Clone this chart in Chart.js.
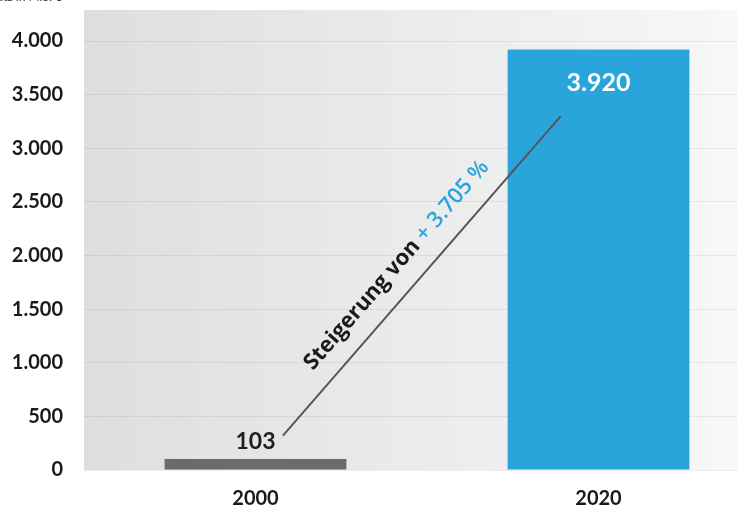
<!DOCTYPE html>
<html>
<head>
<meta charset="utf-8">
<script src="https://cdn.jsdelivr.net/npm/chart.js@4/dist/chart.umd.min.js"></script>
<style>
  html, body { margin: 0; padding: 0; background: #fff; overflow: hidden; }
  #wrap { width: 737px; height: 507px; overflow: hidden; }
</style>
</head>
<body>
<div id="wrap"><canvas id="umsatz-chart" width="772" height="507"></canvas></div>
<script>
// values
const years = ["2000", "2020"];
const revenue = [103, 3920];
const revenueLabels = ["103", "3.920"];
const barColors = ["#6b6b6b", "#2aa5dc"];
const yTicks = [0, 500, 1000, 1500, 2000, 2500, 3000, 3500, 4000];
const yTickLabels = ["0", "500", "1.000", "1.500", "2.000", "2.500", "3.000", "3.500", "4.000"];
const unitTitle = "Umsatz in Mio. €";
// trend arrow: [category position, value]
const trendFrom = [0.08, 320];
const trendTo = [0.89, 3300];
const trendTextBlack = "Steigerung von ";
const trendTextBlue = "+ 3.705 %";

const FONT = "Lato, 'Noto Sans', sans-serif";
const WIDE = "'Open Sans', 'Noto Sans', sans-serif";

const backgroundPlugin = {
  id: "bgGradient",
  beforeDraw(chart) {
    const {ctx, chartArea} = chart;
    const top = chartArea.top - 31;
    const g = ctx.createLinearGradient(chartArea.left, 0, chartArea.right, 0);
    g.addColorStop(0, "#dedede");
    g.addColorStop(1, "#f9f9f9");
    ctx.save();
    ctx.fillStyle = g;
    ctx.fillRect(chartArea.left, top, chartArea.right - chartArea.left, chartArea.bottom - top);
    ctx.restore();
  }
};

const labelsPlugin = {
  id: "valueLabels",
  afterDatasetsDraw(chart) {
    const {ctx} = chart;
    const meta = chart.getDatasetMeta(0);
    ctx.save();
    ctx.textAlign = "center";
    ctx.textBaseline = "middle";
    // 2000: above the bar
    let bar = meta.data[0];
    ctx.font = "bold 23px " + FONT;
    ctx.fillStyle = "#1e1e1e";
    ctx.fillText(revenueLabels[0], bar.x, bar.y - 17);
    // 2020: inside the bar
    bar = meta.data[1];
    ctx.font = "bold 25px " + FONT;
    ctx.fillStyle = "#ffffff";
    ctx.fillText(revenueLabels[1], bar.x, bar.y + 33);

    // trend line
    const xs = chart.scales.x, ys = chart.scales.y;
    const x1 = xs.getPixelForValue(trendFrom[0]), y1 = ys.getPixelForValue(trendFrom[1]);
    const x2 = xs.getPixelForValue(trendTo[0]), y2 = ys.getPixelForValue(trendTo[1]);
    ctx.strokeStyle = "#555555";
    ctx.lineWidth = 2;
    ctx.beginPath();
    ctx.moveTo(x1, y1);
    ctx.lineTo(x2, y2);
    ctx.stroke();

    // rotated text along the line
    const ang = Math.atan2(y2 - y1, x2 - x1);
    const len = Math.hypot(x2 - x1, y2 - y1);
    const dx = Math.cos(ang), dy = Math.sin(ang);
    const along = len * 0.48, off = 26;
    const cx = x1 + dx * along + dy * off;
    const cy = y1 + dy * along - dx * off;
    ctx.translate(cx, cy);
    ctx.rotate(ang);
    const fBlack = "bold 22px " + WIDE;
    const fBlue = "600 22px " + WIDE;
    ctx.font = fBlack;
    const w1 = ctx.measureText(trendTextBlack).width;
    ctx.font = fBlue;
    const w2 = ctx.measureText(trendTextBlue).width;
    let start = -(w1 + w2) / 2;
    ctx.textAlign = "left";
    ctx.font = fBlack;
    ctx.fillStyle = "#1a1a1a";
    ctx.fillText(trendTextBlack, start, 0);
    ctx.font = fBlue;
    ctx.fillStyle = "#2aa5dc";
    ctx.fillText(trendTextBlue, start + w1, 0);
    ctx.restore();

    // cut-off unit title at the very top
    ctx.save();
    ctx.font = "12px " + FONT;
    ctx.fillStyle = "#333";
    ctx.textAlign = "right";
    ctx.textBaseline = "alphabetic";
    ctx.fillText(unitTitle, 62, 1);
    ctx.restore();
  }
};

new Chart(document.getElementById("umsatz-chart"), {
  type: "bar",
  data: {
    labels: years,
    datasets: [{
      data: revenue,
      backgroundColor: barColors,
      categoryPercentage: 1,
      barPercentage: 0.53,
      borderWidth: 0
    }]
  },
  options: {
    responsive: false,
    animation: false,
    layout: { padding: { top: 41, right: 2, left: 0, bottom: 0 } },
    plugins: {
      legend: { display: false },
      tooltip: { enabled: false }
    },
    scales: {
      x: {
        grid: { display: false, drawTicks: false },
        border: { display: false },
        ticks: { padding: 17, color: "#1a1a1a", font: { family: FONT, size: 20, weight: "bold" } },
        afterFit(scale) { scale.height = 37; }
      },
      y: {
        min: 0,
        max: 4000,
        afterBuildTicks(scale) { scale.ticks = yTicks.map(v => ({value: v})); },
        grid: { color: "rgba(0,0,0,0.07)", lineWidth: 1, drawTicks: false },
        border: { display: false },
        ticks: {
          padding: 21,
          color: "#1a1a1a",
          font: { family: FONT, size: 20, weight: "bold" },
          callback: (v) => yTickLabels[yTicks.indexOf(v)]
        },
        afterFit(scale) { scale.width = 84; }
      }
    }
  },
  plugins: [backgroundPlugin, labelsPlugin]
});
</script>
</body>
</html>
